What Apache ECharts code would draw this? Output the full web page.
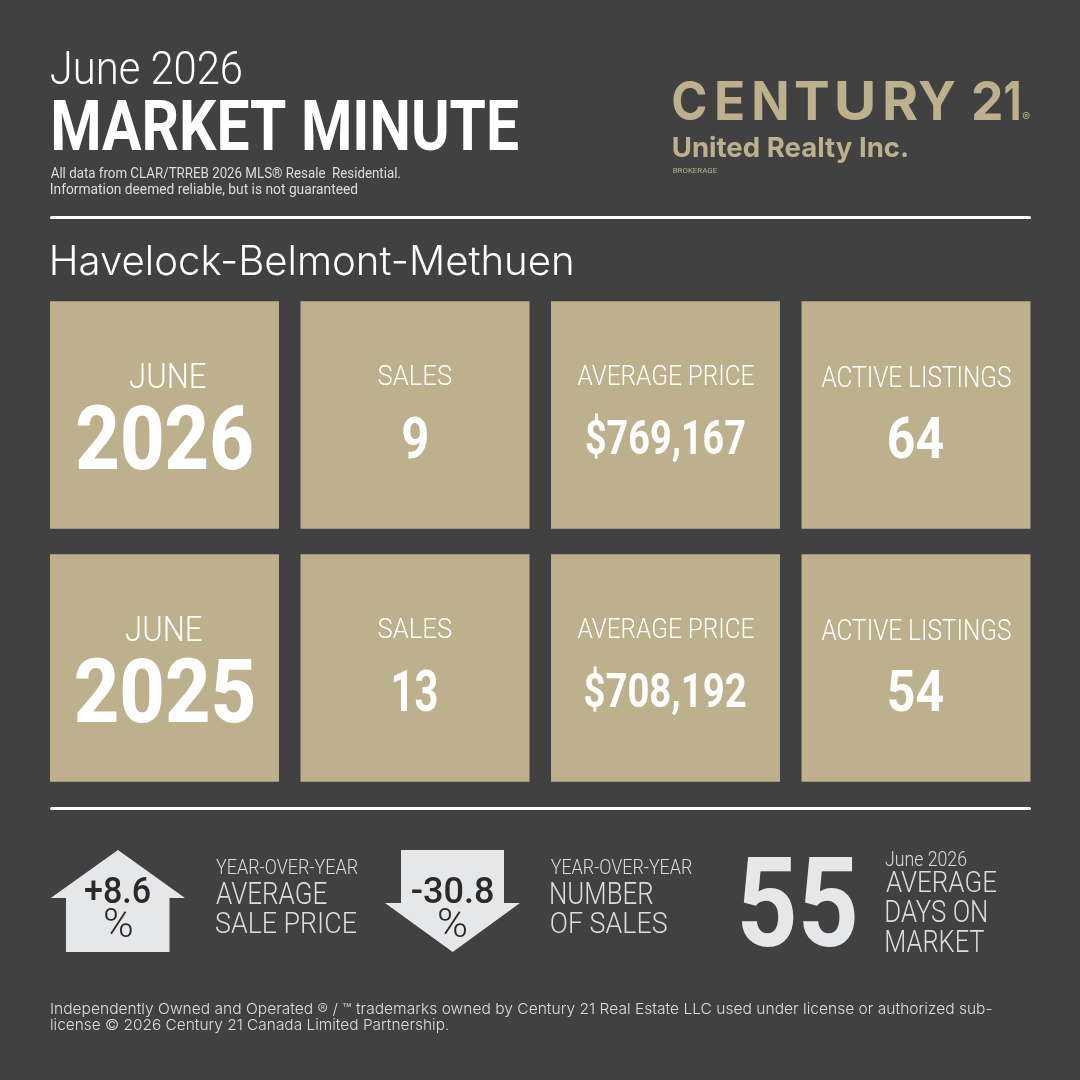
<!DOCTYPE html>
<html><head><meta charset="utf-8">
<style>html,body{margin:0;padding:0;background:#414141}#c{width:1080px;height:1080px}</style>
<script src="https://cdn.jsdelivr.net/npm/echarts@6/dist/echarts.min.js"></script>
</head><body><div id="c"></div>
<script>
// ---- data ----
const reportMonth = 'June';
const years = [2026, 2025];
const tileLabels = ['SALES', 'AVERAGE PRICE', 'ACTIVE LISTINGS'];
const sales = [9, 13];
const averagePrice = [769167, 708192];
const activeListings = [64, 54];
const priceChangePct = 8.6;
const salesChangePct = -30.8;
const averageDaysOnMarket = 55;
const area = 'Havelock-Belmont-Methuen';

// ---- style ----
const BG = '#414141', GOLD = '#BDB08D', LIGHT = '#E6E7E8', SOFT = '#DCDDDE', WHITE = '#FFFFFF', INK = '#2A2A2A';
const COND = 'Roboto', GEO = 'Inter';

// Ink-fit text: places text so its ink spans x0..x1 and its cap height spans top..bottom.
const ctx = document.createElement('canvas').getContext('2d');
function fit(text, x0, x1, top, bottom, family, weight, fill) {
  ctx.textBaseline = 'alphabetic';
  ctx.font = weight + ' 100px "' + family + '"';
  const capRatio = ctx.measureText('H').actualBoundingBoxAscent / 100;
  const size = (bottom - top) / capRatio;
  ctx.font = weight + ' ' + size + 'px "' + family + '"';
  ctx.textBaseline = 'middle';
  const m = ctx.measureText(text);
  const capAbove = ctx.measureText('H').actualBoundingBoxAscent;
  const inkW = m.actualBoundingBoxLeft + m.actualBoundingBoxRight;
  const sx = (x1 - x0) / inkW;
  return {
    type: 'text', silent: true,
    x: x0 + m.actualBoundingBoxLeft * sx, y: top + capAbove, scaleX: sx, scaleY: 1,
    style: { text: text, x: 0, y: 0, fontSize: size, fontFamily: family, fontWeight: weight,
             fill: fill, textAlign: 'left', textVerticalAlign: 'middle', verticalAlign: 'middle' }
  };
}
const pct = v => (v > 0 ? '+' : '') + v.toFixed(1);
const money = v => '$' + v.toLocaleString('en-US');

// tile text placement, relative to each tile's centre
const tileValueText = [
  years.map(String),
  sales.map(String),
  averagePrice.map(money),
  activeListings.map(String)
];
const tileLabelText = [reportMonth.toUpperCase()].concat(tileLabels);
const labelPlace = [
  { dx: [3.5, -0.5], w: [76, 76], top: -52.5, bottom: -28, weight: 300 },
  { dx: [0, 0], w: [73, 73], top: -50.5, bottom: -30.5, weight: 300 },
  { dx: [0, 0], w: [176, 176], top: -50.5, bottom: -30.5, weight: 300 },
  { dx: [0, 0], w: [189, 189], top: -49.5, bottom: -29, weight: 300 }
];
const valuePlace = [
  { dx: [0, 0], w: [175, 178], top: -10, bottom: 53, weight: 800 },
  { dx: [0, 0], w: [24, 43], top: 1.5, bottom: 42.5, weight: 700 },
  { dx: [0, 0], w: [158, 161], top: 4.5, bottom: 39.5, weight: 700 },
  { dx: [0, 0], w: [55, 55], top: 2, bottom: 43, weight: 700 }
];

const cols = ['period', 'sales', 'price', 'active'];
const rows = years.map(String);
const tileData = [];
rows.forEach((r, ri) => cols.forEach((c, ci) => tileData.push([c, r, ri, ci])));

function renderTile(params, api) {
  const ri = api.value(2), ci = api.value(3);
  const c = api.coord([cols[ci], rows[ri]]);
  const band = api.size([1, 1]);
  const w = band[0] * 0.914, h = band[1] * 0.9;
  const lp = labelPlace[ci], vp = valuePlace[ci];
  const lx = c[0] + lp.dx[ri], vx = c[0] + vp.dx[ri];
  return { type: 'group', children: [
    { type: 'rect', shape: { x: c[0] - w / 2, y: c[1] - h / 2, width: w, height: h }, style: { fill: GOLD } },
    fit(tileLabelText[ci], lx - lp.w[ri] / 2, lx + lp.w[ri] / 2, c[1] + lp.top, c[1] + lp.bottom, COND, lp.weight, WHITE),
    fit(tileValueText[ci][ri], vx - vp.w[ri] / 2, vx + vp.w[ri] / 2, c[1] + vp.top, c[1] + vp.bottom, COND, vp.weight, WHITE)
  ]};
}

const logoLetters = [['C',673,706],['E',717,743],['N',754,787],['T',795,828],['U',837,873],['R',885,917],['Y',919,955],['2',973,1001],['1',1005,1019]];

const graphics = [
  fit(reportMonth + ' ' + years[0], 50.7, 241.7, 50.5, 83, COND, 300, WHITE),
  fit('MARKET MINUTE', 53.5, 518.5, 100, 150.7, COND, 700, WHITE),
  fit('All data from CLAR/TRREB 2026 MLS\u00AE Resale  Residential.', 50.7, 400, 166.7, 177.7, COND, 400, SOFT),
  fit('Information deemed reliable, but is not guaranteed', 50.7, 357.7, 182.7, 193.5, COND, 400, SOFT),
  { type: 'rect', shape: { x: 50, y: 216, width: 981, height: 3, r: 1.5 }, style: { fill: WHITE } },
  { type: 'rect', shape: { x: 50, y: 807, width: 981, height: 3, r: 1.5 }, style: { fill: WHITE } },
  fit(area, 51.7, 572, 245, 274.5, GEO, 300, WHITE)
];
logoLetters.forEach(l => graphics.push(fit(l[0], l[1], l[2], 81, 120, GEO, 700, GOLD)));
graphics.push(
  fit('\u00AE', 1022, 1030, 112, 121, GEO, 400, GOLD),
  fit('United Realty Inc.', 672.7, 907, 136.5, 156.7, GEO, 700, GOLD),
  fit('BROKERAGE', 672.7, 717.7, 168.3, 174, COND, 400, GOLD),
  // arrows
  { type: 'polygon', shape: { points: [[118,850],[185,898],[169.5,898],[169.5,952],[66,952],[66,898],[50.7,898]] }, style: { fill: LIGHT } },
  { type: 'polygon', shape: { points: [[401,850],[504,850],[504,903],[520,903],[452.7,952],[385,903],[401,903]] }, style: { fill: LIGHT } },
  fit(pct(priceChangePct), 85, 150.7, 877, 903, COND, 500, INK),
  fit('%', 105, 131.7, 908, 936.7, COND, 300, INK),
  fit(pct(salesChangePct), 411.7, 493, 877, 903, COND, 500, INK),
  fit('%', 439, 466, 908, 936.7, COND, 300, INK),
  fit('YEAR-OVER-YEAR', 216, 357.7, 859, 874, COND, 300, SOFT),
  fit('AVERAGE', 216, 326.7, 882, 904, COND, 300, SOFT),
  fit('SALE PRICE', 216, 356.7, 912, 933.5, COND, 300, SOFT),
  fit('YEAR-OVER-YEAR', 550.7, 692, 859, 874, COND, 300, SOFT),
  fit('NUMBER', 550.7, 653, 882, 904, COND, 300, SOFT),
  fit('OF SALES', 550.7, 666.7, 912, 933.5, COND, 300, SOFT),
  fit(String(averageDaysOnMarket), 741.7, 855, 857, 947, COND, 700, LIGHT),
  fit(reportMonth + ' ' + years[0], 885, 966.7, 850.5, 865, COND, 300, SOFT),
  fit('AVERAGE', 886, 996, 871, 892.3, COND, 300, SOFT),
  fit('DAYS ON', 886, 986.7, 900, 922, COND, 300, SOFT),
  fit('MARKET', 886, 984, 929.5, 951.7, COND, 300, SOFT),
  fit('Independently Owned and Operated \u00AE / \u2122 trademarks owned by Century 21 Real Estate LLC used under license or authorized sub-', 51, 991.7, 1003, 1014, GEO, 300, SOFT),
  fit('license \u00A9 2026 Century 21 Canada Limited Partnership.', 51, 448, 1019, 1030, GEO, 300, SOFT)
);

const chart = echarts.init(document.getElementById('c'), null, { renderer: 'canvas' });
chart.setOption({
  animation: false,
  backgroundColor: BG,
  grid: { left: 39.25, top: 288.5, width: 1002, height: 506, containLabel: false },
  xAxis: { type: 'category', data: cols, show: false },
  yAxis: { type: 'category', data: rows, inverse: true, show: false },
  tooltip: { show: false },
  graphic: graphics.map(g => Object.assign({}, g, { z: 10 })),
  series: [{ type: 'custom', data: tileData, renderItem: renderTile, encode: { x: 0, y: 1 }, silent: true }]
});
</script></body></html>
